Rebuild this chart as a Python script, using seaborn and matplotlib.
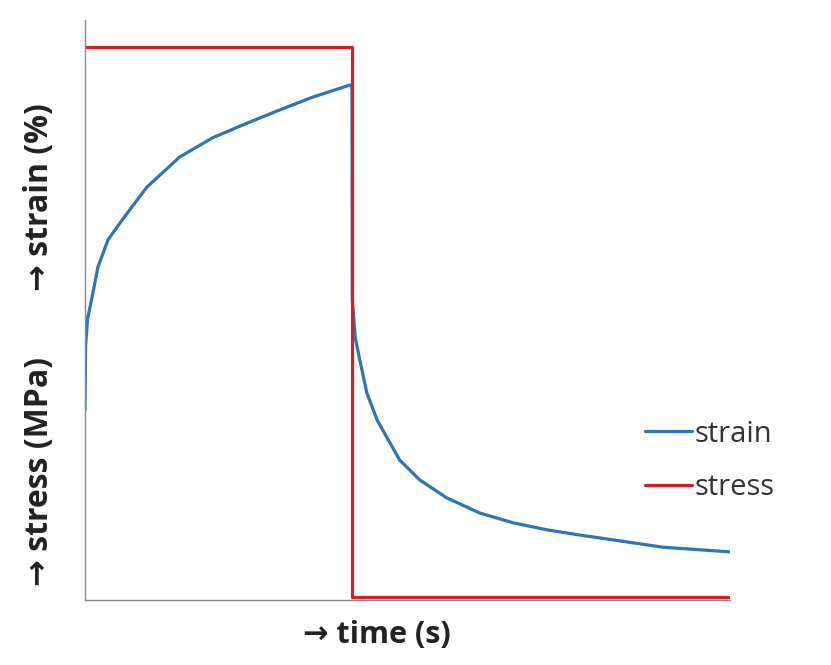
import numpy as np
import pandas as pd
import matplotlib
matplotlib.use("Agg")
import matplotlib.pyplot as plt
import seaborn as sns

# strain curve (creep under load, then recovery)
strain_t = [0, 0.1, 0.4, 1.09, 2.0, 3.57, 5.74, 9.6, 14.7, 19.8, 25.1, 30.2, 35.3,
            41.1, 41.4, 41.45, 41.9, 42.6, 43.7, 45.3, 48.8, 51.9, 56.1, 61.2,
            66.4, 71.6, 76.7, 82.9, 89.6, 100]
strain_y = [32.8, 44.0, 48.5, 52.2, 57.4, 62.1, 65.5, 71.2, 76.4, 79.7, 82.2, 84.5, 86.7,
            88.8, 88.4, 51.7, 45.3, 41.4, 35.7, 31.0, 24.1, 20.7, 17.6, 15.0,
            13.3, 12.1, 11.2, 10.2, 9.1, 8.3]

# stress step
stress_t = [0, 41.4, 41.4, 100]
stress_y = [95.3, 95.3, 0.5, 0.5]

labels = ["strain", "stress"]
colors = ["#2E75B6", "#D0202A"]

strain_df = pd.DataFrame({"t": strain_t, "v": strain_y})
stress_df = pd.DataFrame({"t": stress_t, "v": stress_y})

sns.set_style("white")
plt.rcParams["font.family"] = ["Open Sans", "DejaVu Sans"]

fig = plt.figure(figsize=(8.31, 6.65), dpi=100)
ax = fig.add_axes([85 / 831, 65 / 665, 645 / 831, 580 / 665])

sns.lineplot(data=strain_df, x="t", y="v", color=colors[0], label=labels[0],
             estimator=None, sort=False, linewidth=2.3, ax=ax)
sns.lineplot(data=stress_df, x="t", y="v", color=colors[1], label=labels[1],
             estimator=None, sort=False, linewidth=2.3, ax=ax)

ax.set_xlim(0, 100)
ax.set_ylim(0, 100)
ax.set_xticks([])
ax.set_yticks([])
ax.set_xlabel("")
ax.set_ylabel("")
for s in ["top", "right"]:
    ax.spines[s].set_visible(False)
for s in ["left", "bottom"]:
    ax.spines[s].set_color("#888888")
    ax.spines[s].set_linewidth(1.0)

leg = ax.legend(loc="center left", bbox_to_anchor=(534 / 645, (600 - 461) / 580),
                frameon=False, fontsize=21, handlelength=1.6, handletextpad=0.1,
                labelspacing=0.85)
for line in leg.get_lines():
    line.set_linewidth(2.3)
for txt in leg.get_texts():
    txt.set_color("#333333")

fig.text(377 / 831, 1 - 635 / 665, "→ time (s)", ha="center", va="center",
         fontsize=22, fontweight="bold", color="#222222")
fig.text(40 / 831, 1 - 472 / 665, "→ stress (MPa)", ha="center", va="center",
         rotation=90, fontsize=23, fontweight="bold", color="#222222")
fig.text(40 / 831, 1 - 197 / 665, "→ strain (%)", ha="center", va="center",
         rotation=90, fontsize=23, fontweight="bold", color="#222222")

fig.savefig("out.png", dpi=100)
